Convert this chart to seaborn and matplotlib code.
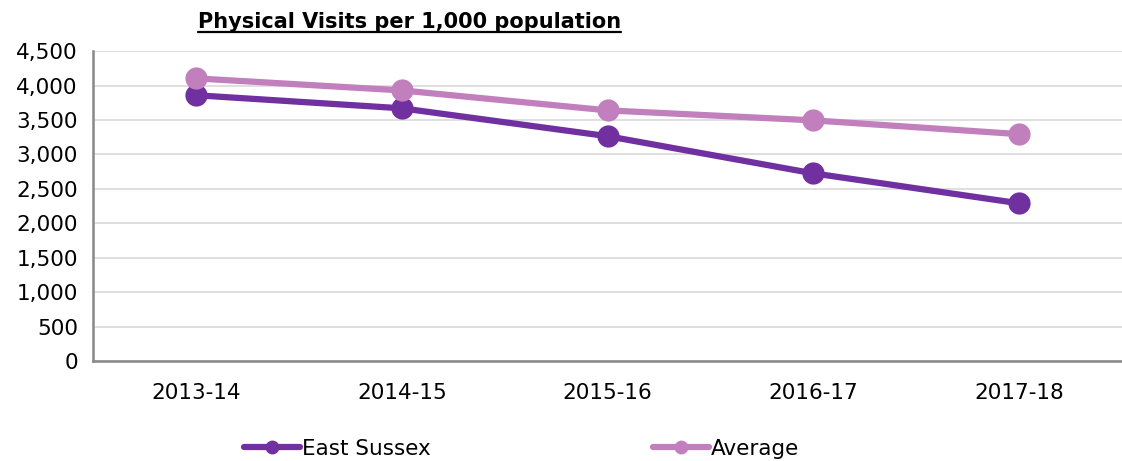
import matplotlib
matplotlib.use('Agg')
import matplotlib.pyplot as plt
import seaborn as sns
import pandas as pd
from matplotlib.lines import Line2D

years = ['2013-14', '2014-15', '2015-16', '2016-17', '2017-18']
east_sussex = [3860, 3670, 3265, 2725, 2290]
average = [4105, 3930, 3640, 3495, 3295]
series = ['East Sussex', 'Average']
colours = {'East Sussex': '#7030A0', 'Average': '#C27FBE'}

df = pd.DataFrame({'year': years * 2,
                   'value': east_sussex + average,
                   'series': [series[0]] * 5 + [series[1]] * 5})

sns.set_style('white')
plt.rcParams['font.family'] = ['DejaVu Sans']
plt.rcParams['text.color'] = 'black'

fig = plt.figure(figsize=(11.22, 4.61), dpi=100)
ax = fig.add_axes([0.083, 0.217, 0.917, 0.672])

sns.lineplot(data=df, x='year', y='value', hue='series', palette=colours,
             marker='o', markersize=16, markeredgewidth=0, linewidth=4.5,
             sort=False, ax=ax, legend=False)

ax.set_xlim(-0.5, 4.5)
ax.set_ylim(0, 4500)
ax.set_yticks(range(0, 4501, 500))
ax.set_yticklabels(['{:,}'.format(v) for v in range(0, 4501, 500)])
ax.yaxis.grid(True, color='#D9D9D9', linewidth=1.2)
ax.set_axisbelow(True)
ax.set_xlabel('')
ax.set_ylabel('')
ax.tick_params(axis='both', labelsize=15.5, length=0, colors='black')
ax.tick_params(axis='x', pad=16)
ax.tick_params(axis='y', pad=11)
for s in ['top', 'right']:
    ax.spines[s].set_visible(False)
for s in ['left', 'bottom']:
    ax.spines[s].set_color('#888888')
    ax.spines[s].set_linewidth(1.8)

handles = [Line2D([], [], color=colours[s], linewidth=4.5, marker='o',
                  markersize=10, markeredgewidth=0) for s in series]
fig.legend(handles, series, loc='center', bbox_to_anchor=(0.465, 0.027),
           ncol=2, frameon=False, fontsize=15.5, handlelength=2.6,
           handletextpad=0.1, columnspacing=10.3)

title = fig.text(0.365, 0.952, 'Physical Visits per 1,000 population',
                 ha='center', va='center', fontsize=15, fontweight='bold',
                 color='black')
fig.canvas.draw()
bb = title.get_window_extent().transformed(fig.transFigure.inverted())
fig.add_artist(Line2D([bb.x0, bb.x1], [bb.y0, bb.y0],
                      color='black', linewidth=1.6, transform=fig.transFigure))

fig.savefig('out.png', dpi=100)
